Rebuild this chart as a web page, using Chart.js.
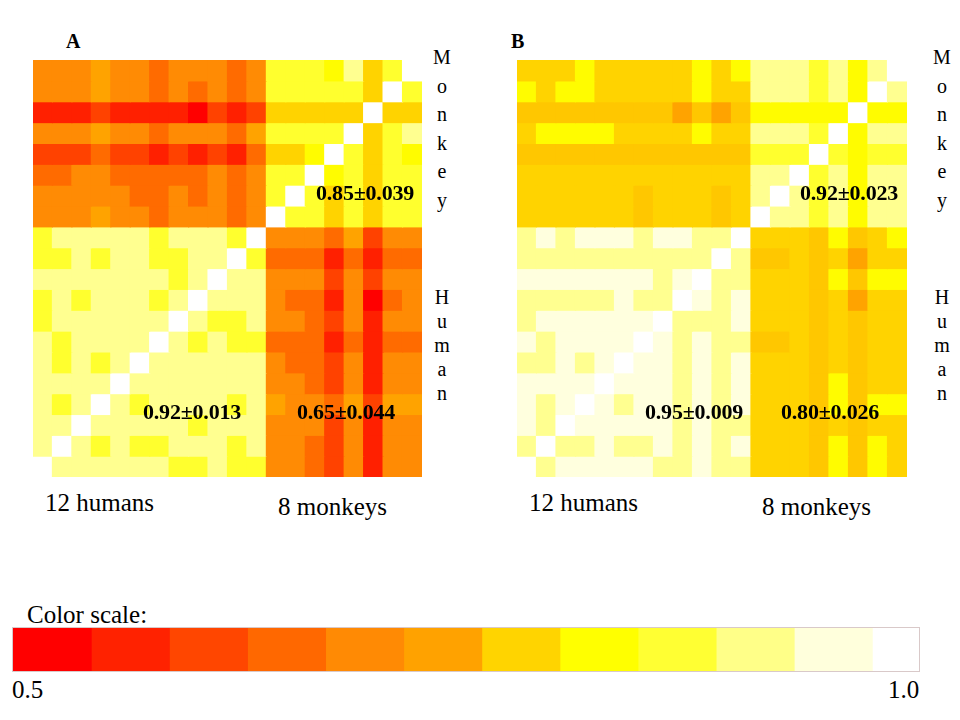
<!DOCTYPE html>
<html>
<head>
<meta charset="utf-8">
<title>Similarity matrices</title>
<script src="https://cdn.jsdelivr.net/npm/chart.js@4.4.1/dist/chart.umd.min.js"></script>
<style>
    body { margin: 0; width: 960px; height: 720px; background: #fff; position: relative; overflow: hidden;
           font-family: "Liberation Serif", "DejaVu Serif", serif; color: #000; }
    .abs { position: absolute; white-space: nowrap; line-height: 1; }
    .panel { font-weight: bold; font-size: 20px; }
    .stat { font-weight: bold; font-size: 22px; letter-spacing: -0.2px; }
    .grp { font-size: 25px; }
    .side { font-size: 20px; width: 24px; text-align: center; white-space: normal; }
    #scaleBox { position: absolute; left: 12px; top: 627px; width: 906px; height: 43px; border: 1px solid #d9c9c9; }
</style>
</head>
<body>
<div class="abs panel" style="left:66px;top:31px">A</div>
<div class="abs panel" style="left:511px;top:31px">B</div>
<canvas id="matA" class="abs" style="left:33px;top:60px" width="389" height="417"></canvas>
<canvas id="matB" class="abs" style="left:517px;top:60px" width="390" height="417"></canvas>
<div id="labels"></div>
<div class="abs grp" style="left:27px;top:602px">Color scale:</div>
<div id="scaleBox"><canvas id="scaleBar" width="906" height="43"></canvas></div>
<div class="abs grp" style="left:12px;top:677px" id="scaleLo"></div>
<div class="abs grp" style="left:888px;top:677px" id="scaleHi"></div>
<script>
// colour steps of the legend, 0.5 -> 1.0
var scaleColors = ['#ff0000', '#ff2200', '#ff4600', '#ff6800', '#ff8a04', '#ffa200',
                   '#ffd400', '#ffff00', '#ffff33', '#ffff88', '#ffffdc', '#ffffff'];
var scaleMin = 0.5;
var scaleMax = 1.0;
var scaleEnds = ['0.5', '1.0'];

// columns: 12 humans then 8 monkeys; rows are listed top to bottom (monkeys on top)
var subjects = ['H1', 'H2', 'H3', 'H4', 'H5', 'H6', 'H7', 'H8', 'H9', 'H10', 'H11', 'H12',
                'M1', 'M2', 'M3', 'M4', 'M5', 'M6', 'M7', 'M8'];
var groupNames = ['12 humans', '8 monkeys'];
var sideNames = ['Monkey', 'Human'];

var simA = [
    [.69,.69,.69,.73,.69,.69,.65,.69,.69,.69,.65,.69, .85,.85,.85,.81,.90,.77,.85,1.0],
    [.69,.69,.69,.73,.69,.69,.65,.69,.65,.69,.65,.69, .85,.85,.85,.85,.85,.77,1.0,.85],
    [.56,.56,.56,.60,.56,.56,.56,.56,.52,.60,.56,.60, .77,.77,.77,.77,.77,1.0,.77,.77],
    [.69,.69,.69,.73,.69,.69,.65,.69,.69,.69,.65,.73, .85,.85,.85,.85,1.0,.77,.85,.90],
    [.60,.60,.60,.65,.60,.60,.56,.60,.56,.60,.56,.65, .77,.77,.81,1.0,.85,.77,.85,.81],
    [.65,.65,.69,.69,.65,.65,.65,.65,.65,.69,.65,.69, .85,.85,1.0,.81,.85,.77,.85,.85],
    [.69,.69,.69,.69,.69,.65,.65,.69,.65,.69,.65,.69, .85,1.0,.85,.77,.85,.77,.85,.85],
    [.69,.69,.69,.73,.69,.69,.65,.69,.69,.69,.65,.69, 1.0,.85,.85,.77,.85,.77,.85,.85],
    [.85,.90,.90,.90,.90,.90,.85,.90,.90,.90,.85,1.0, .69,.69,.69,.65,.73,.60,.69,.69],
    [.85,.85,.90,.85,.90,.90,.85,.85,.90,.90,1.0,.85, .65,.65,.65,.56,.65,.56,.65,.65],
    [.90,.90,.90,.90,.90,.90,.90,.85,.90,1.0,.90,.90, .69,.69,.69,.60,.69,.60,.69,.69],
    [.85,.90,.85,.90,.90,.90,.85,.90,1.0,.90,.90,.90, .69,.65,.65,.56,.69,.52,.65,.69],
    [.85,.90,.90,.90,.90,.90,.90,1.0,.90,.85,.85,.90, .69,.69,.65,.60,.69,.56,.69,.69],
    [.90,.85,.90,.90,.90,.90,1.0,.90,.85,.90,.85,.85, .65,.65,.65,.56,.65,.56,.65,.65],
    [.90,.85,.90,.85,.90,1.0,.90,.90,.90,.90,.90,.90, .69,.65,.65,.60,.69,.56,.69,.69],
    [.90,.90,.90,.90,1.0,.90,.90,.90,.90,.90,.90,.90, .69,.69,.65,.60,.69,.56,.69,.69],
    [.90,.85,.90,1.0,.90,.85,.90,.90,.90,.90,.85,.90, .73,.69,.69,.65,.73,.60,.73,.73],
    [.90,.90,1.0,.90,.90,.90,.90,.90,.85,.90,.90,.90, .69,.69,.69,.60,.69,.56,.69,.69],
    [.90,1.0,.90,.85,.90,.85,.85,.90,.90,.90,.85,.90, .69,.69,.65,.60,.69,.56,.69,.69],
    [1.0,.90,.90,.90,.90,.90,.90,.85,.85,.90,.85,.85, .69,.69,.65,.60,.69,.56,.69,.69]
];

var simB = [
    [.77,.77,.77,.81,.77,.77,.77,.77,.77,.81,.77,.81, .90,.90,.90,.85,.90,.81,.90,1.0],
    [.81,.77,.81,.81,.77,.77,.77,.77,.77,.81,.77,.77, .90,.90,.90,.85,.90,.81,1.0,.90],
    [.76,.76,.76,.76,.76,.76,.76,.76,.73,.76,.73,.76, .81,.81,.81,.81,.81,1.0,.81,.81],
    [.77,.81,.81,.81,.81,.77,.77,.77,.77,.81,.77,.77, .90,.90,.90,.85,1.0,.81,.90,.90],
    [.76,.76,.76,.76,.76,.76,.76,.76,.76,.76,.76,.76, .85,.85,.85,1.0,.85,.81,.85,.85],
    [.77,.77,.77,.77,.77,.77,.77,.77,.77,.77,.77,.77, .90,.90,1.0,.85,.90,.81,.90,.90],
    [.77,.77,.77,.77,.77,.77,.76,.77,.77,.77,.76,.77, .90,1.0,.90,.85,.90,.81,.90,.90],
    [.77,.77,.77,.77,.77,.77,.76,.77,.77,.77,.76,.77, 1.0,.90,.90,.85,.90,.81,.90,.90],
    [.90,.94,.90,.94,.94,.94,.90,.94,.94,.90,.90,1.0, .77,.77,.77,.76,.81,.76,.77,.81],
    [.90,.90,.90,.90,.90,.90,.90,.90,.90,.90,1.0,.90, .76,.76,.77,.76,.77,.73,.77,.77],
    [.94,.94,.94,.94,.94,.94,.94,.90,.94,1.0,.90,.90, .77,.77,.77,.76,.81,.76,.81,.81],
    [.90,.90,.90,.90,.90,.94,.90,.90,1.0,.94,.90,.94, .77,.77,.77,.76,.77,.73,.77,.77],
    [.90,.94,.94,.94,.94,.94,.94,1.0,.90,.90,.90,.94, .77,.77,.77,.76,.77,.76,.77,.77],
    [.94,.90,.94,.94,.94,.94,1.0,.94,.90,.94,.90,.90, .76,.76,.77,.76,.77,.76,.77,.77],
    [.90,.90,.94,.90,.94,1.0,.94,.94,.90,.94,.90,.94, .77,.77,.77,.76,.77,.76,.77,.77],
    [.94,.94,.94,.94,1.0,.94,.94,.94,.90,.94,.90,.94, .77,.77,.77,.76,.81,.76,.77,.77],
    [.94,.90,.94,1.0,.94,.90,.94,.94,.90,.94,.90,.94, .77,.77,.77,.76,.81,.76,.81,.81],
    [.94,.90,1.0,.94,.94,.94,.94,.94,.90,.94,.90,.90, .77,.77,.77,.76,.77,.76,.77,.77],
    [.90,1.0,.90,.90,.94,.90,.90,.94,.90,.94,.90,.94, .77,.77,.77,.76,.81,.76,.81,.77],
    [1.0,.90,.94,.94,.94,.94,.94,.90,.90,.94,.90,.90, .77,.77,.77,.76,.81,.76,.81,.77]
];

// block means printed on the matrices: monkey-monkey, human-human, monkey-human
var statsA = ['0.85±0.039', '0.92±0.013', '0.65±0.044'];
var statsB = ['0.92±0.023', '0.95±0.009', '0.80±0.026'];

function hexRgb(h) {
    return [parseInt(h.substr(1, 2), 16), parseInt(h.substr(3, 2), 16), parseInt(h.substr(5, 2), 16)];
}

// value -> colour, blending between the centres of the legend steps
function cellColor(v) {
    var n = scaleColors.length;
    var t = (v - scaleMin) / ((scaleMax - scaleMin) / n) - 0.5;
    t = Math.max(0, Math.min(n - 1, t));
    var i = Math.floor(t);
    if (i >= n - 1) return scaleColors[n - 1];
    var f = t - i;
    var a = hexRgb(scaleColors[i]), b = hexRgb(scaleColors[i + 1]);
    return 'rgb(' + [0, 1, 2].map(function(k) { return Math.round(a[k] + (b[k] - a[k]) * f); }).join(',') + ')';
}

function drawMatrix(id, rows) {
    var nRows = rows.length;
    var datasets = rows.map(function(row, r) {
        var level = nRows - 1 - r;
        return {
            label: 'row ' + (r + 1),
            data: row.map(function(v, c) { return { x: subjects[c], y: [level, level + 1], v: v }; }),
            backgroundColor: function(ctx) { return cellColor(ctx.raw.v); },
            borderWidth: 0,
            barPercentage: 1,
            categoryPercentage: 1,
            grouped: false,
            inflateAmount: 0.6
        };
    });
    return new Chart(document.getElementById(id), {
        type: 'bar',
        data: { labels: subjects, datasets: datasets },
        options: {
            responsive: false,
            animation: false,
            layout: { padding: 0 },
            scales: {
                x: { display: false },
                y: { display: false, min: 0, max: nRows }
            },
            plugins: {
                legend: { display: false },
                tooltip: {
                    callbacks: {
                        label: function(item) { return item.raw.v.toFixed(2); }
                    }
                }
            }
        }
    });
}

drawMatrix('matA', simA);
drawMatrix('matB', simB);

// legend bar: one segment per colour step (the last step is cut short in the original)
var scaleShown = 11.6;
new Chart(document.getElementById('scaleBar'), {
    type: 'bar',
    data: {
        labels: ['scale'],
        datasets: scaleColors.map(function(c, k) {
            return { data: [[k, k + 1]], backgroundColor: c, borderWidth: 0,
                     barPercentage: 1, categoryPercentage: 1, grouped: false, inflateAmount: 0.6 };
        })
    },
    options: {
        indexAxis: 'y',
        responsive: false,
        animation: false,
        layout: { padding: 0 },
        scales: {
            x: { display: false, min: 0, max: scaleShown },
            y: { display: false }
        },
        plugins: { legend: { display: false }, tooltip: { enabled: false } }
    }
});
document.getElementById('scaleLo').textContent = scaleEnds[0];
document.getElementById('scaleHi').textContent = scaleEnds[1];

// vertical group names: one letter per line
function sideLabel(text, left, top, step) {
    return text.split('').map(function(ch, i) {
        return '<div class="abs side" style="left:' + left + 'px;top:' + Math.round(top + i * step) + 'px">' + ch + '</div>';
    }).join('');
}

// text around the two panels
var panelLeft = [33, 517];
var labelsHtml = '';
[statsA, statsB].forEach(function(stats, p) {
    var dx = p === 0 ? 0 : 484;
    labelsHtml += '<div class="abs stat" style="left:' + (316 + dx) + 'px;top:182px">' + stats[0] + '</div>';
    labelsHtml += '<div class="abs stat" style="left:' + (143 + dx + (p ? 18 : 0)) + 'px;top:401px">' + stats[1] + '</div>';
    labelsHtml += '<div class="abs stat" style="left:' + (297 + dx) + 'px;top:401px">' + stats[2] + '</div>';
    labelsHtml += '<div class="abs grp" style="left:' + (panelLeft[p] + 12) + 'px;top:490px">' + groupNames[0] + '</div>';
    labelsHtml += '<div class="abs grp" style="left:' + (panelLeft[p] + 245) + 'px;top:494px">' + groupNames[1] + '</div>';
    var sx = 430 + dx + (p ? 16 : 0);
    labelsHtml += sideLabel(sideNames[0], sx, 47, 28.6);
    labelsHtml += sideLabel(sideNames[1], sx, 287, 24);
});
document.getElementById('labels').innerHTML = labelsHtml;
</script>
</body>
</html>
